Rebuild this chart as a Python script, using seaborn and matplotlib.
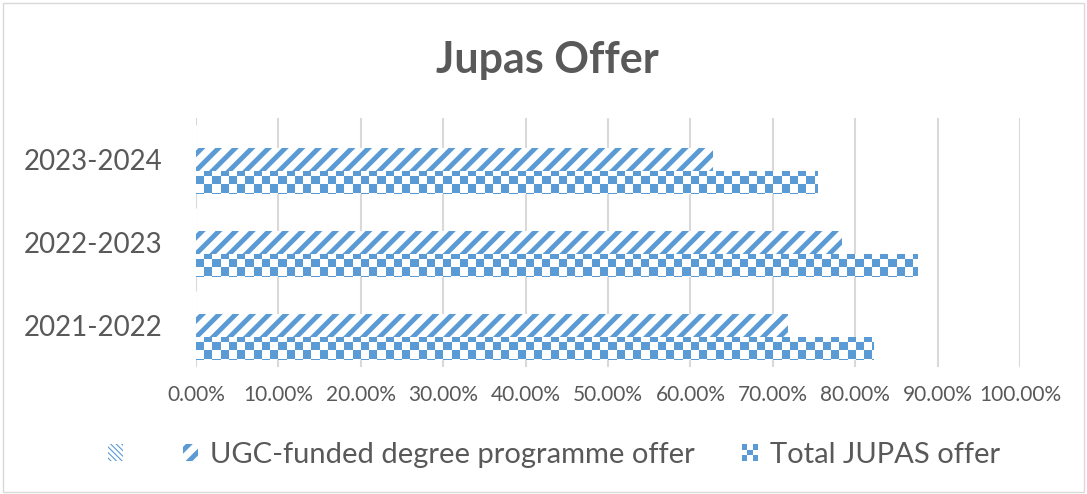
import numpy as np
import pandas as pd
import matplotlib
matplotlib.use("Agg")
import matplotlib.pyplot as plt
import seaborn as sns
from matplotlib.colors import ListedColormap
from matplotlib.patches import Patch, Rectangle
from matplotlib.legend_handler import HandlerBase

# chart values
years = ["2023-2024", "2022-2023", "2021-2022"]
blank_offer = [0.0, 0.0, 0.0]
ugc_offer = [0.627, 0.784, 0.718]
total_offer = [0.754, 0.876, 0.822]
series_names = ["(blank)", "UGC-funded degree programme offer", "Total JUPAS offer"]
x_ticks = [0.0, 0.1, 0.2, 0.3, 0.4, 0.5, 0.6, 0.7, 0.8, 0.9, 1.0]

BLUE = "#5B9BD5"
TEXT = "#595959"
GRID = "#D9D9D9"

sns.set_theme(style="white")
plt.rcParams["font.family"] = ["Lato", "DejaVu Sans"]
plt.rcParams["hatch.linewidth"] = 3.5

df = pd.DataFrame({
    "Year": years * 3,
    "Series": [s for s in series_names for _ in years],
    "Value": blank_offer + ugc_offer + total_offer,
})

fig = plt.figure(figsize=(10.87, 4.94), dpi=100)
ax = fig.add_axes([0.1803, 0.257, 0.7581, 0.504])

sns.barplot(data=df, y="Year", x="Value", hue="Series", hue_order=series_names,
            order=years, orient="h", width=0.83, gap=0, ax=ax, legend=False)

# UGC bars: wide upward diagonal stripes
for bar in ax.containers[1]:
    bar.set_facecolor("white")
    bar.set_edgecolor(BLUE)
    bar.set_linewidth(0)
    bar.set_hatch("//")

# Total bars: checkerboard, drawn as an image clipped to each bar
cols = np.arange(110)
rows = np.arange(30)
checker = (rows[:, None] + cols[None, :]) % 2
cmap = ListedColormap(["white", BLUE])
for bar in ax.containers[2]:
    bar.set_facecolor("white")
    bar.set_linewidth(0)
    im = ax.imshow(checker, cmap=cmap, extent=(0, 1.1, -0.5, 2.5), origin="lower",
                   aspect="auto", interpolation="nearest", zorder=2)
    im.set_clip_path(bar)

ax.set_xlim(0, 1.0)
ax.set_ylim(2.5, -0.5)
ax.set_xticks(x_ticks)
ax.set_xticklabels([f"{v * 100:.2f}%" for v in x_ticks], fontsize=15, color=TEXT)
ax.tick_params(axis="x", length=0, pad=13)
ax.tick_params(axis="y", length=0, pad=24, labelsize=20, labelcolor=TEXT)
ax.set_xlabel("")
ax.set_ylabel("")
ax.grid(axis="x", color=GRID, linewidth=1.5)
ax.set_axisbelow(True)
for sp in ax.spines.values():
    sp.set_visible(False)

fig.suptitle("Jupas Offer", x=0.504, y=0.92, fontsize=31, fontweight="bold", color=TEXT)


class CheckerHandler(HandlerBase):
    def create_artists(self, legend, orig_handle, xdescent, ydescent,
                       width, height, fontsize, trans):
        s = max(width, height)
        x0 = -xdescent + (width - s) / 2
        y0 = -ydescent + (height - s) / 2
        c = s / 3
        arts = []
        for i in range(3):
            for j in range(3):
                fc = BLUE if (i + j) % 2 == 0 else "white"
                arts.append(Rectangle((x0 + i * c, y0 + j * c), c, c, facecolor=fc,
                                      linewidth=0, transform=trans))
        return arts


h_blank = Patch(facecolor="white", edgecolor=BLUE, hatch="\\\\\\\\\\\\", linewidth=0)
h_ugc = Patch(facecolor="white", edgecolor=BLUE, hatch="//", linewidth=0)
h_total = Patch(facecolor="white", linewidth=0)

leg = fig.legend([h_blank, h_ugc, h_total], ["", series_names[1], series_names[2]],
                 loc="center", bbox_to_anchor=(554 / 1087, 1 - 455 / 494), ncol=3,
                 frameon=False, fontsize=21, labelcolor=TEXT,
                 handlelength=0.5, handleheight=0.5, handletextpad=0.42,
                 columnspacing=1.65, handler_map={h_total: CheckerHandler()})
for p in leg.get_patches():
    if p.get_hatch() and "\\" in p.get_hatch() and hasattr(p, "set_hatch_linewidth"):
        p.set_hatch_linewidth(0.8)

# chart border
fig.patches.append(Rectangle((0.003, 0.004), 0.994, 0.99, transform=fig.transFigure,
                             fill=False, edgecolor=GRID, linewidth=1))

fig.savefig("out.png", dpi=100)
